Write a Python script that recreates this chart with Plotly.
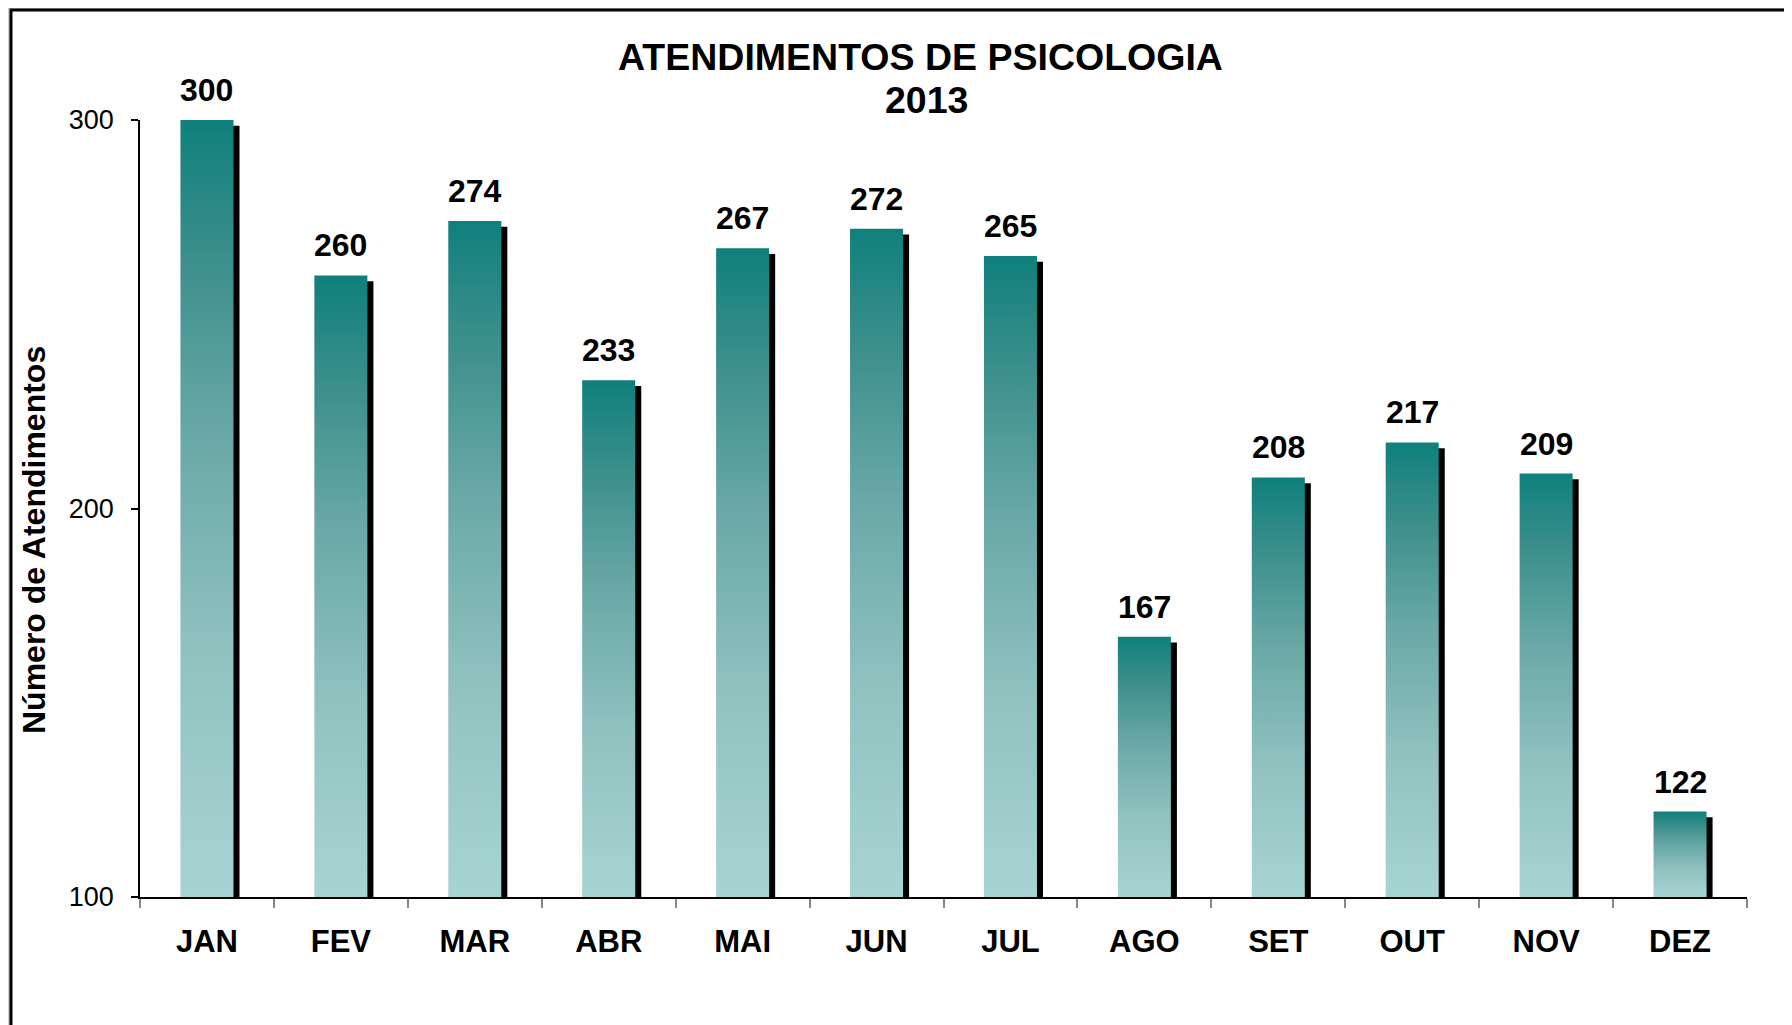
import plotly.graph_objects as go

# ---- data ----
months = ["JAN", "FEV", "MAR", "ABR", "MAI", "JUN", "JUL", "AGO", "SET", "OUT", "NOV", "DEZ"]
atendimentos = [300, 260, 274, 233, 267, 272, 265, 167, 208, 217, 209, 122]
y_ticks = [100, 200, 300]
title_line1 = "ATENDIMENTOS DE PSICOLOGIA"
title_line2 = "2013"
y_title = "Número de Atendimentos"

# ---- style constants ----
OFF = 8                      # page body margin of the html page
W, H = 1792 - OFF, 1025 - OFF
ML, MR, MT, MB = 140 - OFF, 45, 120 - OFF, 128
PW, PH = W - ML - MR, H - MT - MB
Y_MIN, Y_MAX = 100, 300
BAR_W = 0.396
SHADOW_DX = 0.045          # category units (~6px)
SHADOW_DY = 1.5            # value units (~6px)
FONT = "Liberation Sans, Arial, Helvetica, sans-serif"
grad = [[0.0, "#a6d4d3"], [0.3, "#92c3c1"], [0.6, "#68a8a6"], [0.82, "#3c8f8c"], [1.0, "#0f807c"]]


def px_x(p):
    # p is a screen pixel
    return (p - OFF - ML) / PW


def px_y(p):
    return (H - MB - (p - OFF)) / PH


idx = list(range(len(months)))
fig = go.Figure()

# shadows
fig.add_trace(go.Bar(
    x=[i + SHADOW_DX for i in idx],
    y=[v - SHADOW_DY for v in atendimentos],
    width=BAR_W,
    marker=dict(color="black", line=dict(width=0)),
    hoverinfo="skip", showlegend=False,
))

# gradient bars
for i, v in zip(idx, atendimentos):
    fig.add_trace(go.Scatter(
        x=[i - BAR_W / 2, i + BAR_W / 2, i + BAR_W / 2, i - BAR_W / 2, i - BAR_W / 2],
        y=[Y_MIN, Y_MIN, v, v, Y_MIN],
        mode="lines", fill="toself",
        fillgradient=dict(type="vertical", colorscale=grad),
        line=dict(width=0, color="rgba(0,0,0,0)"),
        hoverinfo="skip", showlegend=False,
    ))

annotations = []
for i, v in zip(idx, atendimentos):
    annotations.append(dict(
        x=i, y=v, xref="x", yref="y", text=str(v), showarrow=False,
        yanchor="bottom", xanchor="center", yshift=10,
        font=dict(family=FONT, size=32, color="black", weight="bold"),
    ))

annotations += [
    dict(x=px_x(920), y=px_y(80), xref="paper", yref="paper", text=title_line1,
         showarrow=False, xanchor="center", yanchor="bottom",
         font=dict(family=FONT, size=37.5, color="black", weight="bold")),
    dict(x=px_x(926), y=px_y(123), xref="paper", yref="paper", text=title_line2,
         showarrow=False, xanchor="center", yanchor="bottom",
         font=dict(family=FONT, size=37.5, color="black", weight="bold")),
    dict(x=px_x(34), y=px_y(540), xref="paper", yref="paper", text=y_title,
         showarrow=False, xanchor="center", yanchor="middle", textangle=-90,
         font=dict(family=FONT, size=32, color="black", weight="bold")),
]

fig.update_layout(
    width=W, height=H,
    margin=dict(l=ML, r=MR, t=MT, b=MB, pad=0),
    paper_bgcolor="#c4d0d6",
    plot_bgcolor="white",
    showlegend=False,
    barmode="overlay",
    annotations=annotations,
    shapes=[dict(type="rect", xref="paper", yref="paper",
                 x0=px_x(11), x1=px_x(1792 + 50), y0=px_y(1025 + 50), y1=px_y(10),
                 fillcolor="white", line=dict(color="black", width=3), layer="below")],
    xaxis=dict(
        range=[-0.5, len(months) - 0.5],
        tickmode="array", tickvals=idx, ticktext=months,
        ticks="", showgrid=False, zeroline=False,
        showline=True, linecolor="black", linewidth=1.5,
        tickfont=dict(family=FONT, size=31, color="black", weight="bold"),
        ticklabelstandoff=16,
        minor=dict(tickmode="array", tickvals=[i - 0.5 for i in range(len(months) + 1)],
                   ticks="outside", ticklen=9, tickcolor="#888888", tickwidth=1.5, showgrid=False),
        fixedrange=True,
    ),
    yaxis=dict(
        range=[Y_MIN, Y_MAX], tickmode="array", tickvals=y_ticks,
        ticks="outside", ticklen=7, tickcolor="black", tickwidth=1.5,
        showgrid=False, zeroline=False,
        showline=True, linecolor="black", linewidth=1.5,
        tickfont=dict(family=FONT, size=27, color="black"),
        ticklabelstandoff=12,
        fixedrange=True,
    ),
)

fig.write_html("out.html")
